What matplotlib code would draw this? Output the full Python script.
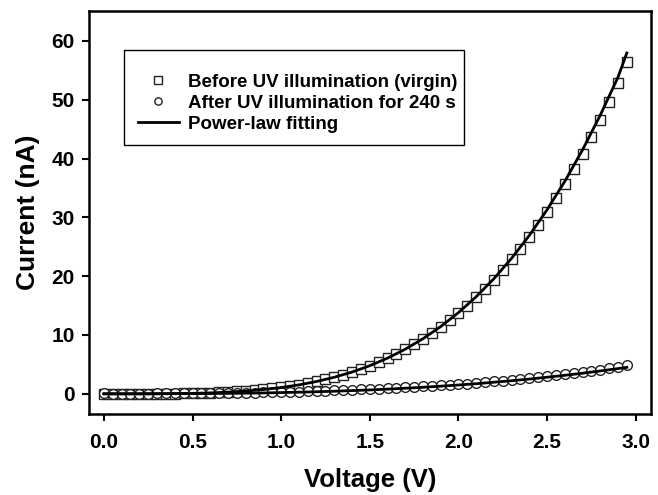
import numpy as np
import matplotlib.pyplot as plt
from matplotlib.patches import Rectangle

plt.rcParams['font.family'] = ['Liberation Sans', 'DejaVu Sans']
plt.rcParams['font.weight'] = 'bold'

# measured points, 0.05 V steps
voltage = np.round(np.arange(60) * 0.05, 2)
i_virgin = [0.00, 0.00, 0.00, 0.00, 0.00, 0.01, 0.01, 0.02, 0.04, 0.06,
            0.09, 0.13, 0.18, 0.24, 0.31, 0.40, 0.50, 0.62, 0.76, 0.92,
            1.10, 1.31, 1.55, 1.82, 2.12, 2.45, 2.83, 3.24, 3.70, 4.21,
            4.76, 5.37, 6.03, 6.76, 7.54, 8.39, 9.30, 10.29, 11.35, 12.48,
            13.70, 15.00, 16.38, 17.85, 19.42, 21.08, 22.84, 24.70, 26.66, 28.74,
            30.93, 33.22, 35.64, 38.18, 40.84, 43.63, 46.55, 49.60, 52.80, 56.40]
i_uv = [0.15, 0.05, 0.04, 0.04, 0.05, 0.05, 0.06, 0.07, 0.08, 0.09,
        0.10, 0.11, 0.13, 0.14, 0.16, 0.18, 0.20, 0.22, 0.25, 0.28,
        0.31, 0.35, 0.39, 0.43, 0.47, 0.52, 0.57, 0.62, 0.68, 0.74,
        0.80, 0.87, 0.94, 1.01, 1.09, 1.17, 1.26, 1.35, 1.44, 1.54,
        1.64, 1.75, 1.86, 1.98, 2.10, 2.23, 2.37, 2.51, 2.66, 2.81,
        2.97, 3.14, 3.31, 3.49, 3.68, 3.88, 4.09, 4.31, 4.55, 4.90]

# power-law fit curves
v_fit = [0.0, 0.1, 0.2, 0.3, 0.4, 0.5, 0.6, 0.7, 0.8, 0.9, 1.0, 1.1, 1.2, 1.3, 1.4, 1.5,
         1.6, 1.7, 1.8, 1.9, 2.0, 2.1, 2.2, 2.3, 2.4, 2.5, 2.6, 2.7, 2.8, 2.9, 2.95]
fit_virgin = [0.0, 0.0, 0.0, 0.01, 0.04, 0.08, 0.16, 0.29, 0.47, 0.73, 1.07, 1.52, 2.10,
              2.82, 3.70, 4.78, 6.07, 7.59, 9.37, 11.43, 13.80, 16.50, 19.57, 23.04,
              26.93, 31.29, 36.12, 41.47, 47.36, 53.82, 57.94]
fit_uv = [0.0, 0.0, 0.0, 0.01, 0.02, 0.03, 0.05, 0.08, 0.11, 0.15, 0.21, 0.28, 0.35,
          0.44, 0.55, 0.66, 0.80, 0.95, 1.11, 1.30, 1.50, 1.72, 1.97, 2.23, 2.51,
          2.82, 3.15, 3.50, 3.89, 4.29, 4.50]

fig = plt.figure(figsize=(6.58, 4.95), dpi=100)
ax = fig.add_axes([0.135, 0.164, 0.854, 0.814])

ax.plot(voltage, i_virgin, 's', ms=7.5, mfc='white', mec='#222222', mew=1.0,
        label='Before UV illumination (virgin)')
ax.plot(voltage, i_uv, 'o', ms=7, mfc='white', mec='#222222', mew=1.0,
        label='After UV illumination for 240 s')
ax.plot(v_fit, fit_virgin, '-', color='black', lw=2, label='Power-law fitting')
ax.plot(v_fit, fit_uv, '-', color='black', lw=2)

ax.set_xlim(-0.085, 3.085)
ax.set_ylim(-3.4, 65.1)
ax.set_xticks([0.0, 0.5, 1.0, 1.5, 2.0, 2.5, 3.0])
ax.set_yticks([0, 10, 20, 30, 40, 50, 60])
ax.xaxis.set_major_formatter(plt.FormatStrFormatter('%.1f'))

for s in ax.spines.values():
    s.set_linewidth(1.8)
ax.tick_params(direction='out', length=5, width=1.5, labelsize=15, pad=5)
ax.tick_params(axis='x', pad=8.5)
for lbl in ax.get_xticklabels() + ax.get_yticklabels():
    lbl.set_fontweight('bold')

ax.set_xlabel('Voltage (V)', fontsize=18.5, fontweight='bold', labelpad=12)
ax.set_ylabel('Current (nA)', fontsize=19, fontweight='bold', labelpad=8)

# legend box drawn separately so text can sit lower inside it
ax.add_patch(Rectangle((0.0623, 0.6675), 0.605, 0.2357, transform=ax.transAxes,
                       facecolor='white', edgecolor='black', lw=1.0, zorder=4))
leg = ax.legend(loc='upper left', bbox_to_anchor=(0.0567, 0.886, 0.605, 0),
                mode='expand', borderaxespad=0,
                fontsize=13.5, frameon=False,
                borderpad=0.9, handlelength=2.2, handletextpad=0.5,
                labelspacing=0.2, markerscale=0.75)
leg.set_zorder(5)
for t in leg.get_texts():
    t.set_fontweight('bold')

plt.savefig('out.png', dpi=100)
plt.close()
